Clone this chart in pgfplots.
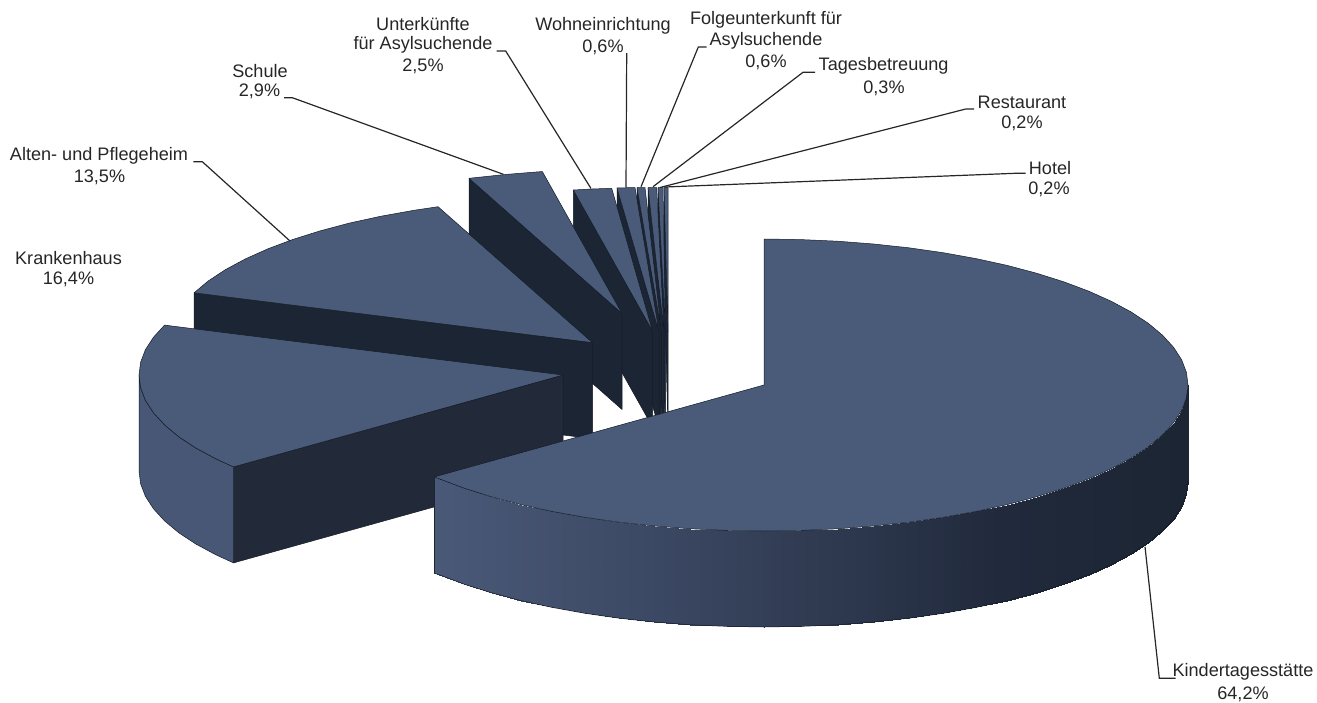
\documentclass[border=0pt]{standalone}
\usepackage{pgfplots}
\usepackage{pgfplotstable}
\usepackage{fontspec}
\setmainfont{Liberation Sans}
\pgfplotsset{compat=1.18}

\definecolor{pietop}{RGB}{74,91,122}
\definecolor{pieside}{RGB}{71,87,117}
\definecolor{piedark}{RGB}{28,37,51}
\definecolor{piedarkb}{RGB}{34,41,57}
\definecolor{pieedge}{RGB}{20,27,38}
\definecolor{labeltext}{RGB}{38,38,38}

\tikzset{lab/.style={text=labeltext, font=\fontsize{18.1}{21}\selectfont, inner sep=0pt, anchor=center}}

% Kindertagesstaette: top face outline
\pgfplotstableread{
x y
764 385
764 239
801 239.6
837.6 241.2
873.7 244
909 247.8
943.2 252.7
976 258.6
1007.2 265.4
1036.5 273.2
1063.8 281.8
1088.8 291.2
1111.3 301.3
1131.2 312
1148.3 323.3
1162.4 335.1
1173.5 347.2
1181.6 359.7
1186.4 372.3
1188 385
1186.4 397.7
1181.6 410.3
1173.5 422.8
1162.4 434.9
1148.3 446.7
1131.2 458
1111.3 468.7
1088.8 478.8
1063.8 488.2
1036.5 496.8
1007.2 504.6
976 511.4
943.2 517.3
909 522.2
873.7 526
837.6 528.8
801 530.4
764 531
727 530.4
690.4 528.8
654.3 526
619 522.2
584.8 517.3
552 511.4
520.8 504.6
491.5 496.8
464.2 488.2
439.2 478.8
434 477
764 385
}\mainTop

% Kindertagesstaette: outer wall, upper rim then lower rim
\pgfplotstableread{
x y
1188 385
1186.4 397.7
1181.6 410.3
1173.5 422.8
1162.4 434.9
1148.3 446.7
1131.2 458
1111.3 468.7
1088.8 478.8
1063.8 488.2
1036.5 496.8
1007.2 504.6
976 511.4
943.2 517.3
909 522.2
873.7 526
837.6 528.8
801 530.4
764 531
727 530.4
690.4 528.8
654.3 526
619 522.2
584.8 517.3
552 511.4
520.8 504.6
491.5 496.8
464.2 488.2
439.2 478.8
434 477
1188 481
1186.4 493.7
1181.6 506.3
1173.5 518.8
1162.4 530.9
1148.3 542.7
1131.2 554
1111.3 564.7
1088.8 574.8
1063.8 584.2
1036.5 592.8
1007.2 600.6
976 607.4
943.2 613.3
909 618.2
873.7 622
837.6 624.8
801 626.4
764 627
727 626.4
690.4 624.8
654.3 622
619 618.2
584.8 613.3
552 607.4
520.8 600.6
491.5 592.8
464.2 584.2
439.2 574.8
434 573
}\mainWall

% Krankenhaus: top face
\pgfplotstableread{
x y
563 375
233.5 466.9
215.7 458.7
195.8 448
178.7 436.7
164.6 424.9
153.5 412.8
145.4 400.3
140.6 387.7
139 375
140.6 362.3
145.4 349.7
153.5 337.2
164.6 325.1
563 375
}\hospitalTop

% Krankenhaus: outer wall
\pgfplotstableread{
x y
233.5 466.9
215.7 458.7
195.8 448
178.7 436.7
164.6 424.9
153.5 412.8
145.4 400.3
140.6 387.7
139 375
139 471
140.6 483.7
145.4 496.3
153.5 508.8
164.6 520.9
178.7 532.7
195.8 544
215.7 554.7
233.5 562.9
233.5 466.9
}\hospitalWall

% Krankenhaus: cut face
\pgfplotstableread{
x y
563 375
233.5 466.9
233.5 562.9
563 471
563 375
}\hospitalCut

% Alten- und Pflegeheim: top face
\pgfplotstableread{
x y
592.5 342.7
194.1 292.8
208.2 281
225.3 269.7
245.2 259
267.7 248.9
292.7 239.5
320 230.9
349.3 223.1
380.5 216.3
413.3 210.4
438 206.7
592.5 342.7
}\careTop

% Alten- und Pflegeheim: cut face
\pgfplotstableread{
x y
592.5 342.7
194.1 292.8
194.1 388.8
592.5 438.7
592.5 342.7
}\careCut

\begin{document}
\begin{tikzpicture}
\useasboundingbox (0,0) rectangle (1317pt,702pt);
\begin{axis}[
  scale only axis,
  width=1317pt, height=702pt,
  xmin=0, xmax=1317, ymin=0, ymax=702,
  y dir=reverse,
  hide axis,
  clip=false,
  no markers,
  colormap={wallshade}{rgb255=(73,89,119) rgb255=(62,75,103) rgb255=(48,59,82) rgb255=(33,42,60) rgb255=(28,37,51)},
  point meta min=434, point meta max=1188,
  face/.style={fill=pietop, draw=pieedge, line width=0.5pt, line join=round},
  cut/.style={fill=piedark, draw=pieedge, line width=0.5pt, line join=round},
  leader/.style={draw=labeltext, line width=1.2pt, line join=miter},
]
% small slices, back to front
% Hotel
\addplot[cut] coordinates {(664,187.5)(668,332)(668,428)(664,283.5)(664,187.5)};
\addplot[face] coordinates {(668,332)(664,187.5)(668,187.5)(668,332)};
% Restaurant
\addplot[cut] coordinates {(658,187.5)(665.5,332)(665.5,428)(658,283.5)(658,187.5)};
\addplot[face] coordinates {(665.5,332)(658,187.5)(663,187.5)(665.5,332)};
% Tagesbetreuung
\addplot[cut] coordinates {(648,187.5)(664,332)(664,428)(648,283.5)(648,187.5)};
\addplot[face] coordinates {(664,332)(648,187.5)(656.7,187.5)(664,332)};
% Folgeunterkunft
\addplot[cut] coordinates {(637,187.5)(661.5,332)(661.5,428)(637,283.5)(637,187.5)};
\addplot[face] coordinates {(661.5,332)(637,187.5)(645,187.5)(661.5,332)};
% Wohneinrichtung
\addplot[cut] coordinates {(617,188)(659,332)(659,428)(617,284)(617,188)};
\addplot[face] coordinates {(659,332)(617,188)(635,187.5)(659,332)};
% Unterkuenfte
\addplot[cut] coordinates {(573.3,190)(652.5,331)(652.5,427)(573.3,286)(573.3,190)};
\addplot[face] coordinates {(652.5,331)(573.3,190)(592,189)(611.7,188.3)(652.5,331)};
% Schule
\addplot[cut] coordinates {(469,178.3)(622,313.5)(622,409.5)(469,274.3)(469,178.3)};
\addplot[face] coordinates {(622,313.5)(469,178.3)(505,174.5)(542.3,171.5)(622,313.5)};
% Alten- und Pflegeheim
\addplot[cut] table {\careCut};
\addplot[face] table {\careTop};
% Krankenhaus
\addplot[cut, fill=piedarkb] table {\hospitalCut};
\addplot[fill=pieside, draw=pieedge, line width=0.5pt, line join=round] table {\hospitalWall};
\addplot[face] table {\hospitalTop};
% Kindertagesstaette
\addplot[surf, shader=interp, mesh/rows=2, point meta=x] table {\mainWall};
\addplot[draw=pieedge, line width=0.5pt] table[skip coords between index={0}{30}] {\mainWall};
\addplot[draw=piedark, line width=0.5pt] coordinates {(434,477)(434,573)};
\addplot[face] table {\mainTop};

% leader lines
\addplot[leader] coordinates {(496.7,51)(505.7,51)(591,188.5)};
\addplot[leader] coordinates {(626.7,53)(626,187.5)};
\addplot[leader] coordinates {(706.7,47)(698.3,47)(641,186.7)};
\addplot[leader] coordinates {(815,72.3)(803,72.3)(653,186.7)};
\addplot[leader] coordinates {(974,109)(965.7,109)(660,187.5)};
\addplot[leader] coordinates {(1025.7,173.3)(1015,173.3)(665,187)};
\addplot[leader] coordinates {(284,97.7)(292.3,97.7)(503.3,174.3)};
\addplot[leader] coordinates {(193.3,161.7)(202.3,161.7)(290,241)};
\addplot[leader] coordinates {(1175.7,678.3)(1159.3,678.3)(1145,546.7)};

% labels
\node[lab] at (423,24) {Unterkünfte};
\node[lab] at (423,45) {für Asylsuchende};
\node[lab] at (423,66) {2,5\%};
\node[lab] at (603,26) {Wohneinrichtung};
\node[lab] at (603,47) {0,6\%};
\node[lab] at (766,20) {Folgeunterkunft für};
\node[lab] at (766,41) {Asylsuchende};
\node[lab] at (766,62) {0,6\%};
\node[lab] at (883.6,66) {Tagesbetreuung};
\node[lab] at (884,88) {0,3\%};
\node[lab] at (1022,102.7) {Restaurant};
\node[lab] at (1022,123) {0,2\%};
\node[lab] at (1050,167.7) {Hotel};
\node[lab] at (1049,189) {0,2\%};
\node[lab] at (260,70.7) {Schule};
\node[lab] at (259.5,91.7) {2,9\%};
\node[lab] at (99,156) {Alten- und Pflegeheim};
\node[lab] at (99.5,177) {13,5\%};
\node[lab] at (68.5,257.7) {Krankenhaus};
\node[lab] at (68.5,279) {16,4\%};
\node[lab] at (1243,672) {Kindertagesstätte};
\node[lab] at (1243,694) {64,2\%};
\end{axis}
\end{tikzpicture}
\end{document}
